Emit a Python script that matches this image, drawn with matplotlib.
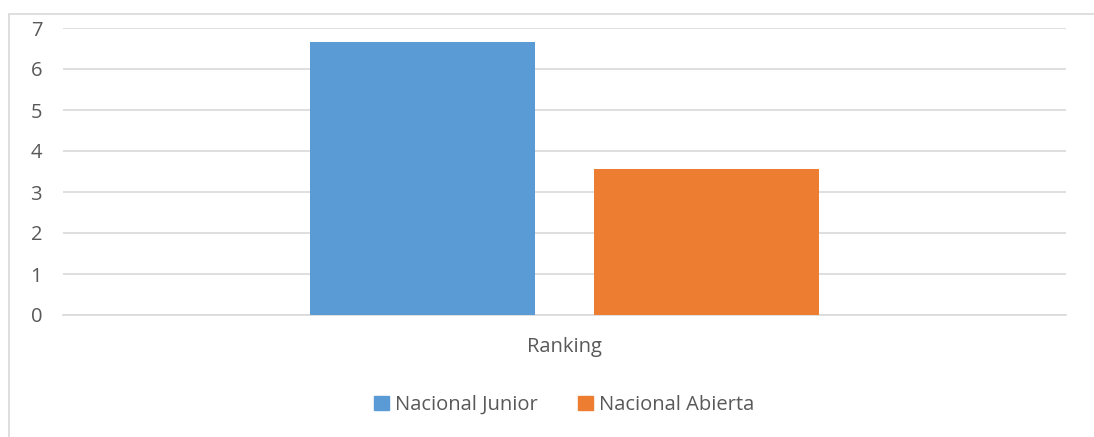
import matplotlib
matplotlib.use("Agg")
import matplotlib.pyplot as plt
from matplotlib.patches import Rectangle, Patch

categories = ["Ranking"]
series_names = ["Nacional Junior", "Nacional Abierta"]
series_values = [[6.65], [3.57]]
colors = ["#5B9BD5", "#ED7D31"]
yticks = [0, 1, 2, 3, 4, 5, 6, 7]

plt.rcParams['font.family'] = ['Open Sans', 'DejaVu Sans']
text_color = "#595959"
fs = 14.5

fig = plt.figure(figsize=(10.94, 4.37), dpi=100)
W, H = 1094, 437
ax = fig.add_axes([63 / W, 1 - 315 / H, (1066 - 63) / W, (315 - 28) / H])

# chart frame
fig.patches.append(Rectangle((9 / W, -0.1), 1.2, 1 - 14 / H + 0.1, transform=fig.transFigure,
                             fill=False, edgecolor="#D9D9D9", linewidth=1.2))

bw = 0.2243
offsets = [-0.142, 0.142]
for i, (name, vals) in enumerate(zip(series_names, series_values)):
    xs = [j + offsets[i] for j in range(len(categories))]
    ax.bar(xs, vals, width=bw, color=colors[i], label=name, zorder=3)

ax.set_xlim(-0.5, len(categories) - 0.5)
ax.set_ylim(0, 7)
ax.set_yticks(yticks)
ax.set_yticklabels([str(t) for t in yticks])
ax.set_xticks(range(len(categories)))
ax.set_xticklabels(categories)
ax.grid(axis="y", color="#D9D9D9", linewidth=1.2, zorder=0)
for s in ["top", "right", "left"]:
    ax.spines[s].set_visible(False)
ax.spines["bottom"].set_color("#D9D9D9")
ax.spines["bottom"].set_linewidth(1.2)
ax.tick_params(axis="both", length=0, colors=text_color, labelsize=fs)
ax.tick_params(axis="x", pad=16)
ax.tick_params(axis="y", pad=15)
for lbl in ax.get_yticklabels():
    lbl.set_horizontalalignment("right")

handles = [Patch(color=c) for c in colors]
fig.legend(handles, series_names, loc="center", bbox_to_anchor=(564 / W, 1 - 405 / H),
           ncol=2, frameon=False, fontsize=fs, labelcolor=text_color,
           handlelength=0.75, handleheight=0.75, handletextpad=0.3, columnspacing=2.0)

fig.savefig("out.png", dpi=100)
